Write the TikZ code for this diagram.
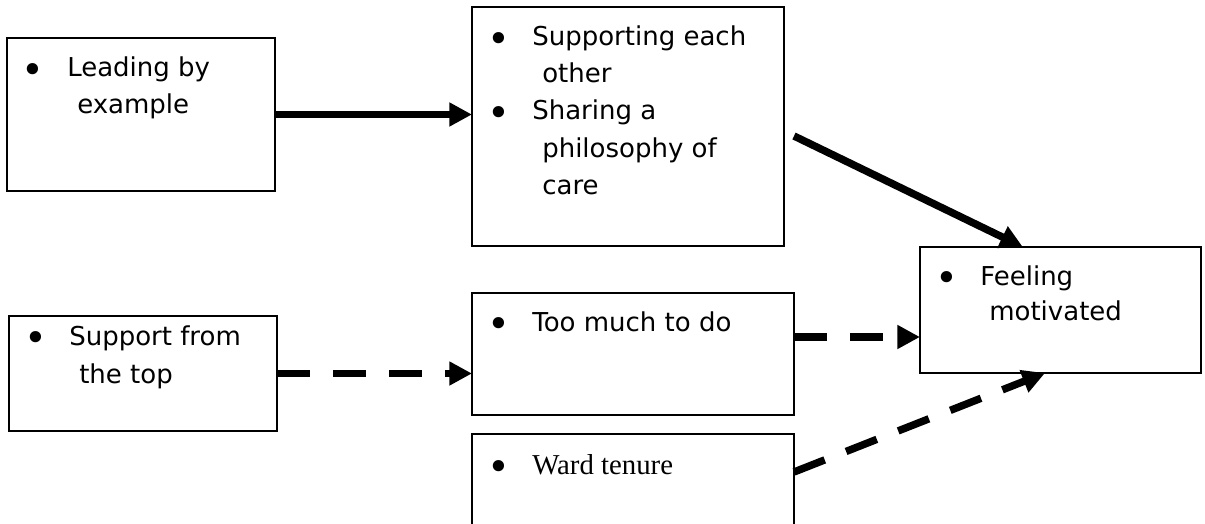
\documentclass[tikz,border=0pt]{standalone}
\usepackage{fontspec}
\setmainfont{DejaVu Sans}
\newfontfamily\timesfont{Liberation Serif}
\usetikzlibrary{arrows.meta,calc,fit}

\begin{document}
\begin{tikzpicture}[x=0.75pt,y=-0.75pt,
  box/.style={draw, line width=1.5pt, rectangle, inner sep=0pt, outer sep=0pt},
  txt/.style={anchor=base west, inner sep=0pt, font=\fontsize{19.5pt}{24pt}\selectfont},
  serif/.style={anchor=base west, inner sep=0pt, font=\timesfont\fontsize{21.6pt}{26pt}\selectfont},
  bul/.style={anchor=base, inner sep=0pt, yshift=-5pt, font=\fontsize{29pt}{30pt}\selectfont},
  solidarrow/.style={line width=5.6pt, -{Triangle[length=17pt,width=17pt]}},
  dasharrow/.style={line width=5.6pt, dash pattern=on 24.75pt off 17.25pt,
    -{Triangle[length=17pt,width=17pt]}}
]
\useasboundingbox (0,0) rectangle (1205,524);

% boxes
\node[box, fit={(7,38) (275,191)}] (A) {};
\node[box, fit={(472,7) (784,246)}] (B) {};
\node[box, fit={(920,247) (1201,373)}] (C) {};
\node[box, fit={(9,316) (277,431)}] (D) {};
\node[box, fit={(472,293) (794,415)}] (E) {};
\node[box, fit={(472,434) (794,560)}] (F) {};

% box texts
\node[bul] (Ab) at (33,77) {•};
\node[txt] (A1) at (67,77) {Leading by};
\node[txt] (A2) at (77,113.5) {example};

\node[bul] (Bb1) at (499,46) {•};
\node[txt] (B1) at (532,46) {Supporting each};
\node[txt] (B2) at (542,83) {other};
\node[bul] (Bb2) at (499,120) {•};
\node[txt] (B3) at (532,120) {Sharing a};
\node[txt] (B4) at (542,157) {philosophy of};
\node[txt] (B5) at (542,194) {care};

\node[bul] (Cb) at (947,285) {•};
\node[txt] (C1) at (980,285) {Feeling};
\node[txt] (C2) at (989,320) {motivated};

\node[bul] (Db) at (36,345) {•};
\node[txt] (D1) at (69,345) {Support from};
\node[txt] (D2) at (79,383) {the top};

\node[bul] (Eb) at (499,331) {•};
\node[txt] (E1) at (532,331) {Too much to do};

\node[bul] (Fb) at (499,474) {•};
\node[serif] (F1) at (532,474) {Ward tenure};

% connector end points
\coordinate (bc) at ($(B.east)+(10,9.5)$);
\coordinate (ec) at ($(E.north east)+(0,44)$);
\coordinate (fc) at ($(F.north east)+(0,38)$);

% connectors
\draw[solidarrow] (A.east) -- (A.east -| B.west);
\draw[solidarrow] (bc) -- ($(C.north west)!0.366!(C.north east)$);
\draw[dasharrow] (D.east) -- (D.east -| E.west);
\draw[dasharrow] (ec) -- (ec -| C.west);
\draw[dasharrow] (fc) -- ($(C.south west)!0.445!(C.south east)$);
\end{tikzpicture}
\end{document}
